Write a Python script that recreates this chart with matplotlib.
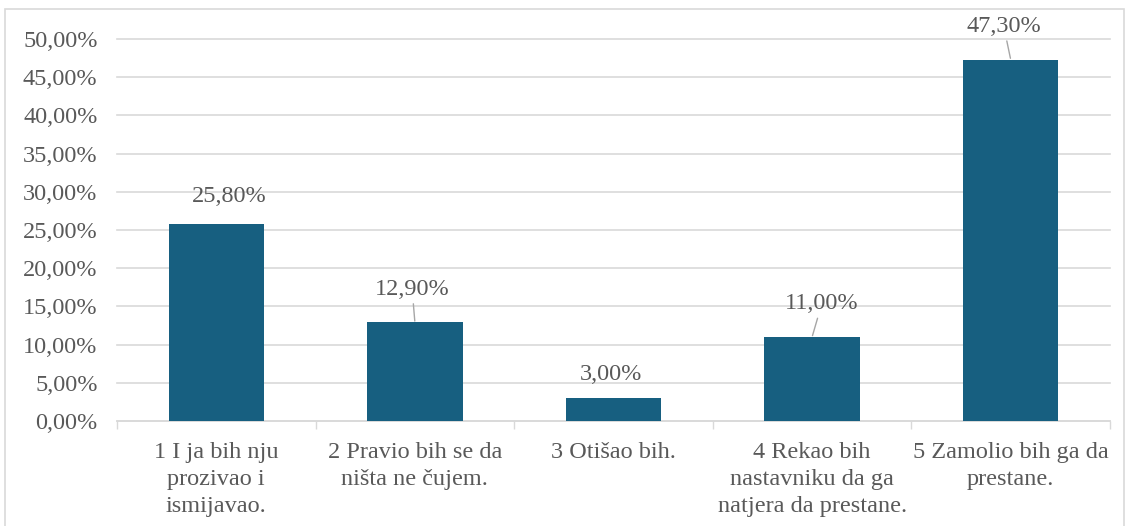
import matplotlib.pyplot as plt
import matplotlib.patches as mpatches
import numpy as np

# Data
categories = ['1 I ja bih nju\nprozivao i\nismijavao.',
              '2 Pravio bih se da\nništa ne čujem.',
              '3 Otišao bih.',
              '4 Rekao bih\nnastavniku da ga\nnatjera da prestane.',
              '5 Zamolio bih ga da\nprestane.']
values = [25.8, 12.9, 3.0, 11.0, 47.3]
y_ticks = [0, 5, 10, 15, 20, 25, 30, 35, 40, 45, 50]

# label offsets (points) and whether a leader line is drawn
label_offsets = [(9, 20), (-2, 24), (-2, 17), (7, 24), (-5, 24)]
leaders = [False, True, False, True, True]

bar_color = '#175f80'
text_color = '#595959'
grid_color = '#d9d9d9'
fs = 17.5

plt.rcParams['font.family'] = ['Liberation Serif', 'DejaVu Serif']

fig = plt.figure(figsize=(11.29, 5.26), dpi=100)
ax = fig.add_axes([117 / 1129, 1 - 421 / 526, (1110 - 117) / 1129, (421 - 39) / 526])

x = np.arange(len(categories))
ax.bar(x, values, width=0.48, color=bar_color, zorder=3)

ax.set_xlim(-0.5, len(categories) - 0.5)
ax.set_ylim(0, 50)
ax.set_yticks(y_ticks)
ax.set_yticklabels([('%.2f%%' % v).replace('.', ',') for v in y_ticks],
                   fontsize=fs, color=text_color)
ax.tick_params(axis='y', length=0, pad=14)

ax.set_xticks(x)
ax.set_xticklabels(categories, fontsize=fs, color=text_color, linespacing=1.38,
                   va='top')
ax.tick_params(axis='x', which='major', length=0, pad=15)
ax.set_xticks(np.arange(-0.5, len(categories)), minor=True)
ax.tick_params(axis='x', which='minor', length=6, width=1, color=grid_color)

ax.yaxis.grid(True, color=grid_color, linewidth=1.2, zorder=0)
for line in ax.get_ygridlines():
    line.set_clip_on(False)
for s in ['top', 'right', 'left']:
    ax.spines[s].set_visible(False)
ax.spines['bottom'].set_color(grid_color)
ax.spines['bottom'].set_linewidth(1.2)

for i, v in enumerate(values):
    label = ('%.2f%%' % v).replace('.', ',')
    arrow = dict(arrowstyle='-', color='#a6a6a6', lw=1, shrinkA=1, shrinkB=1) if leaders[i] else None
    ax.annotate(label, xy=(x[i], v), xytext=label_offsets[i], textcoords='offset points',
                ha='center', va='center', fontsize=fs, color=text_color,
                arrowprops=arrow, zorder=4)

# outer chart border (bottom edge runs off the image)
fig.patches.append(mpatches.Rectangle((5 / 1129, -3 / 526), 1119 / 1129, 520 / 526,
                                      transform=fig.transFigure, fill=False,
                                      edgecolor=grid_color, linewidth=1.2))

fig.savefig('out.png', dpi=100, facecolor='white')
